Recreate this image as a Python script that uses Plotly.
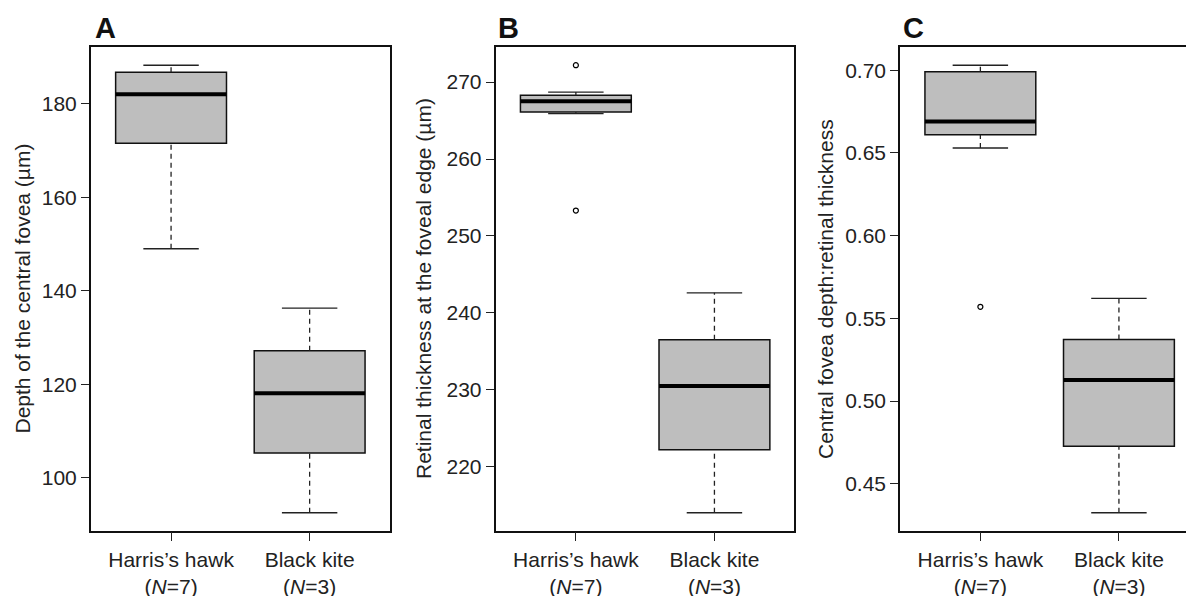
import plotly.graph_objects as go

# ---------------- data ----------------
species = ["Harris’s hawk", "Black kite"]
sample_n = [7, 3]
positions = [1, 2]

# Panel A: depth of the central fovea (µm)
depth_lower = [149.0, 92.5]
depth_q1 = [171.6, 105.3]
depth_median = [182.1, 118.1]
depth_q3 = [186.8, 127.2]
depth_upper = [188.3, 136.3]
depth_outliers = [[], []]

# Panel B: retinal thickness at the foveal edge (µm)
thick_lower = [265.9, 214.0]
thick_q1 = [266.1, 222.2]
thick_median = [267.5, 230.5]
thick_q3 = [268.3, 236.5]
thick_upper = [268.7, 242.6]
thick_outliers = [[272.2, 253.3], []]

# Panel C: central fovea depth : retinal thickness
ratio_lower = [0.653, 0.4325]
ratio_q1 = [0.661, 0.4727]
ratio_median = [0.669, 0.5127]
ratio_q3 = [0.699, 0.5372]
ratio_upper = [0.703, 0.5621]
ratio_outliers = [[0.557], []]

tick_a = [100, 120, 140, 160, 180]
tick_b = [220, 230, 240, 250, 260, 270]
tick_c = [0.45, 0.50, 0.55, 0.60, 0.65, 0.70]

titles = ["Depth of the central fovea (µm)",
          "Retinal thickness at the foveal edge (µm)",
          "Central fovea depth:retinal thickness"]
letters = ["A", "B", "C"]

# ---------------- layout constants ----------------
OFF = 8  # page body margin in the browser
W, H = 1194 - OFF, 596 - OFF
FONT = "Liberation Sans, Arial, Helvetica, sans-serif"
TXT = "#222222"
BOX_FILL = "#bebebe"
BOX_W = 0.8
CAP_W = 0.4

panel_px = [(90.7, 390.0), (495.5, 794.3), (900.0, 1194.0)]
y_top_px, y_bot_px = 47.3, 530.7
title_x_px = [22.5, 424.0, 826.0]
letter_x_px = [92.5, 496.0, 901.0]
letter_y_px = 28.0


def px_x(v):
    return (v - OFF) / W


def px_y(v):
    return 1 - (v - OFF) / H


panels = [
    (depth_lower, depth_q1, depth_median, depth_q3, depth_upper, depth_outliers, tick_a, None),
    (thick_lower, thick_q1, thick_median, thick_q3, thick_upper, thick_outliers, tick_b, None),
    (ratio_lower, ratio_q1, ratio_median, ratio_q3, ratio_upper, ratio_outliers, tick_c, ".2f"),
]

ticktext = [f"{s}<br>(<i>N</i>={n})" for s, n in zip(species, sample_n)]

fig = go.Figure()
base_w = panel_px[0][1] - panel_px[0][0]
x_span = 2.16

for i, (lo, q1, med, q3, hi, outs, ticks, fmt) in enumerate(panels):
    k = "" if i == 0 else str(i + 1)
    xa, ya = "x" + k, "y" + k

    # box
    fig.add_trace(go.Box(
        x=positions, q1=q1, median=med, q3=q3, lowerfence=q1, upperfence=q3,
        width=BOX_W, fillcolor=BOX_FILL, line=dict(color="#111111", width=1.5),
        boxpoints=False, showlegend=False, hoverinfo="skip", xaxis=xa, yaxis=ya))

    # whiskers (dashed)
    wx, wy = [], []
    for p, a, b, c, d in zip(positions, lo, q1, q3, hi):
        wx += [p, p, None, p, p, None]
        wy += [a, b, None, c, d, None]
    fig.add_trace(go.Scatter(x=wx, y=wy, mode="lines",
                             line=dict(color="#222222", width=1.3, dash="5px,4px"),
                             showlegend=False, hoverinfo="skip", xaxis=xa, yaxis=ya))
    # caps
    cx, cy = [], []
    for p, a, d in zip(positions, lo, hi):
        cx += [p - CAP_W / 2, p + CAP_W / 2, None, p - CAP_W / 2, p + CAP_W / 2, None]
        cy += [a, a, None, d, d, None]
    fig.add_trace(go.Scatter(x=cx, y=cy, mode="lines",
                             line=dict(color="#222222", width=1.4),
                             showlegend=False, hoverinfo="skip", xaxis=xa, yaxis=ya))
    # medians
    mx, my = [], []
    for p, m in zip(positions, med):
        mx += [p - BOX_W / 2, p + BOX_W / 2, None]
        my += [m, m, None]
    fig.add_trace(go.Scatter(x=mx, y=my, mode="lines",
                             line=dict(color="black", width=4),
                             showlegend=False, hoverinfo="skip", xaxis=xa, yaxis=ya))
    # outliers
    ox, oy = [], []
    for p, o in zip(positions, outs):
        ox += [p] * len(o)
        oy += o
    if ox:
        fig.add_trace(go.Scatter(x=ox, y=oy, mode="markers",
                                 marker=dict(symbol="circle-open", size=5, color="black",
                                             line=dict(width=1.2)),
                                 showlegend=False, hoverinfo="skip", xaxis=xa, yaxis=ya))

    # ranges (R style: 4% padding)
    allv = lo + hi + [v for o in outs for v in o]
    vmin, vmax = min(allv), max(allv)
    pad = 0.04 * (vmax - vmin)
    x0p, x1p = panel_px[i]
    xr = [0.42, 0.42 + x_span * (x1p - x0p) / base_w]

    axis_common = dict(showgrid=False, zeroline=False, ticks="outside", automargin=False,
                       tickcolor="#222222", linecolor="#111111", linewidth=1.5,
                       tickfont=dict(family=FONT, size=21, color=TXT), showline=True)
    fig.layout["xaxis" + k] = dict(
        domain=[px_x(x0p), min(1.0, px_x(x1p))], range=xr, anchor=ya,
        tickvals=positions, ticktext=ticktext, ticklen=9, mirror=True,
        **axis_common)
    fig.layout["yaxis" + k] = dict(
        domain=[px_y(y_bot_px), px_y(y_top_px)], range=[vmin - pad, vmax + pad],
        anchor=xa, tickvals=ticks, tickformat=fmt, ticklen=8,
        mirror=(i < 2), **axis_common)

    fig.add_annotation(x=px_x(title_x_px[i]), y=px_y((y_top_px + y_bot_px) / 2),
                       xref="paper", yref="paper", text=titles[i], textangle=-90,
                       showarrow=False, xanchor="center", yanchor="middle",
                       font=dict(family=FONT, size=21, color=TXT))
    fig.add_annotation(x=px_x(letter_x_px[i]), y=px_y(letter_y_px), xref="paper", yref="paper",
                       text=f"<b>{letters[i]}</b>", showarrow=False,
                       xanchor="left", yanchor="middle",
                       font=dict(family=FONT, size=29, color="#111111"))

fig.update_layout(width=W, height=H, margin=dict(l=0, r=0, t=0, b=0),
                  template="none",
                  paper_bgcolor="white", plot_bgcolor="white", boxmode="overlay",
                  showlegend=False)

fig.write_html("out.html")
